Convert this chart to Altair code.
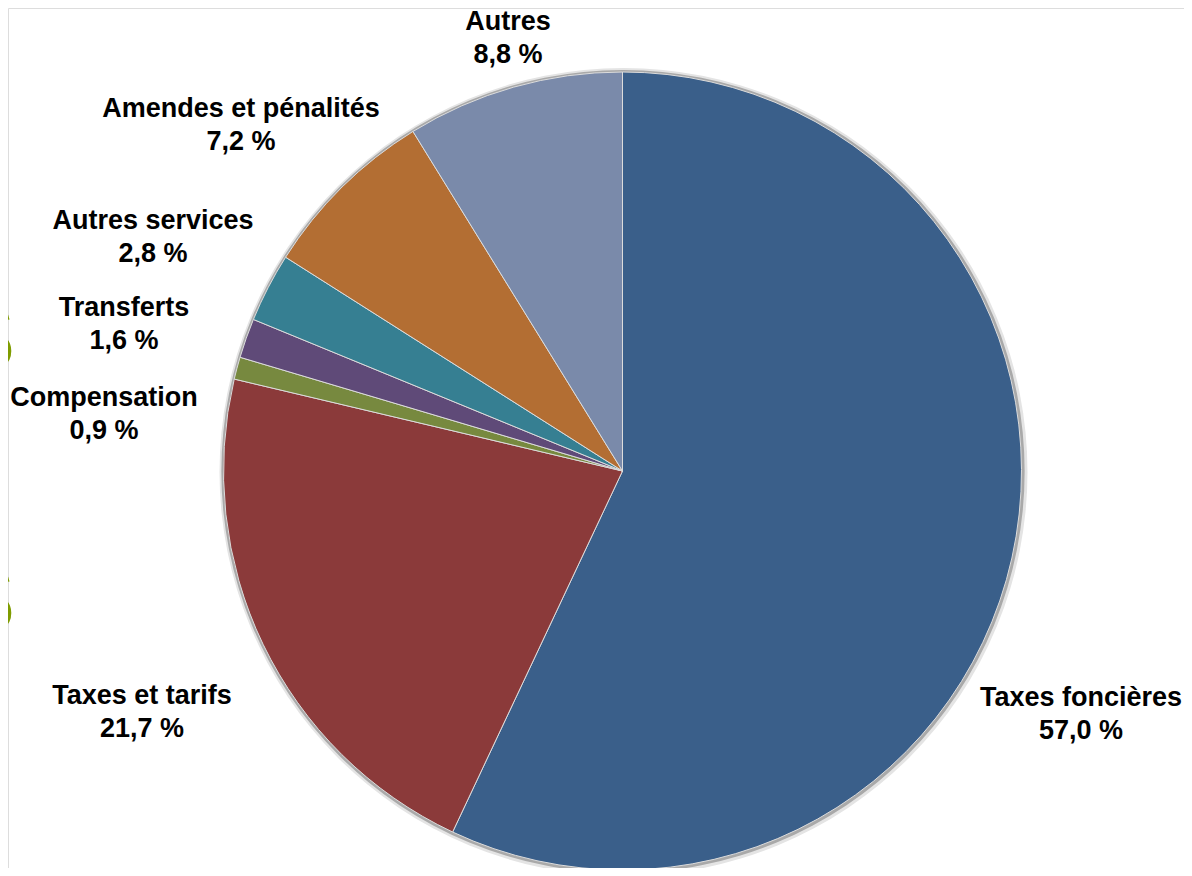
import altair as alt
import pandas as pd

# ---- data ----
categories = ["Taxes foncières", "Taxes et tarifs", "Compensation", "Transferts",
              "Autres services", "Amendes et pénalités", "Autres"]
values = [57.0, 21.7, 0.9, 1.6, 2.8, 7.2, 8.8]
colors = ["#3a5f8a", "#8b3a3a", "#77893f", "#5f4a78", "#367f92", "#b36e33", "#7a8aaa"]

# ---- layout (pixel positions of the labels, first-line baseline) ----
label_pos = {
    "Taxes foncières": (1073, 698),
    "Taxes et tarifs": (134, 696),
    "Compensation": (96, 398),
    "Transferts": (116, 308),
    "Autres services": (145, 221),
    "Amendes et pénalités": (233, 109),
    "Autres": (500, 22),
}
CX, CY, R = 614.5, 463, 399
W, H = 1176, 860

df = pd.DataFrame({"cat": categories, "value": values, "idx": list(range(len(values)))})

lab = pd.DataFrame({
    "txt": [f"{c}\n{v:.1f} %".replace(".", ",") for c, v in zip(categories, values)],
    "lx": [label_pos[c][0] for c in categories],
    "ly": [label_pos[c][1] for c in categories],
})

one = alt.Data(values=[{"a": 1}])

shadow_outer = alt.Chart(one).mark_arc(
    theta=0, theta2=6.2832, radius=R + 5, fill="#e4e4e4"
).encode(x=alt.value(CX + 1), y=alt.value(CY + 1))
shadow_inner = alt.Chart(one).mark_arc(
    theta=0, theta2=6.2832, radius=R + 2.5, fill="#a9a9a9"
).encode(x=alt.value(CX + 0.5), y=alt.value(CY + 0.5))

pie = alt.Chart(df).mark_arc(radius=R, stroke="#dcdcdc", strokeWidth=1).encode(
    theta=alt.Theta("value:Q", stack=True),
    order=alt.Order("idx:Q"),
    color=alt.Color("cat:N", scale=alt.Scale(domain=categories, range=colors), legend=None),
    x=alt.value(CX),
    y=alt.value(CY),
)

labels = alt.Chart(lab).mark_text(
    font="Liberation Sans", fontWeight="bold", fontSize=27, lineBreak="\n",
    lineHeight=33, align="center", baseline="alphabetic", color="#000000"
).encode(
    x=alt.X("lx:Q", scale=None, axis=None),
    y=alt.Y("ly:Q", scale=None, axis=None),
    text="txt:N",
)

deco = alt.Chart(alt.Data(values=[{"s": "S", "yy": 362}, {"s": "S", "yy": 624}])).mark_text(
    font="Liberation Sans", fontWeight="bold", fontSize=96, align="right",
    baseline="alphabetic", color="#7f9c00"
).encode(x=alt.value(7), y=alt.Y("yy:Q", scale=None, axis=None), text="s:N")

chart = alt.layer(deco, shadow_outer, shadow_inner, pie, labels).properties(
    width=W, height=H, padding=0, autosize=alt.AutoSizeParams(type="none")
).configure_view(stroke="transparent", strokeWidth=0).configure(background="#ffffff")

chart.save("out.html", embed_options={"renderer": "svg", "actions": False})
